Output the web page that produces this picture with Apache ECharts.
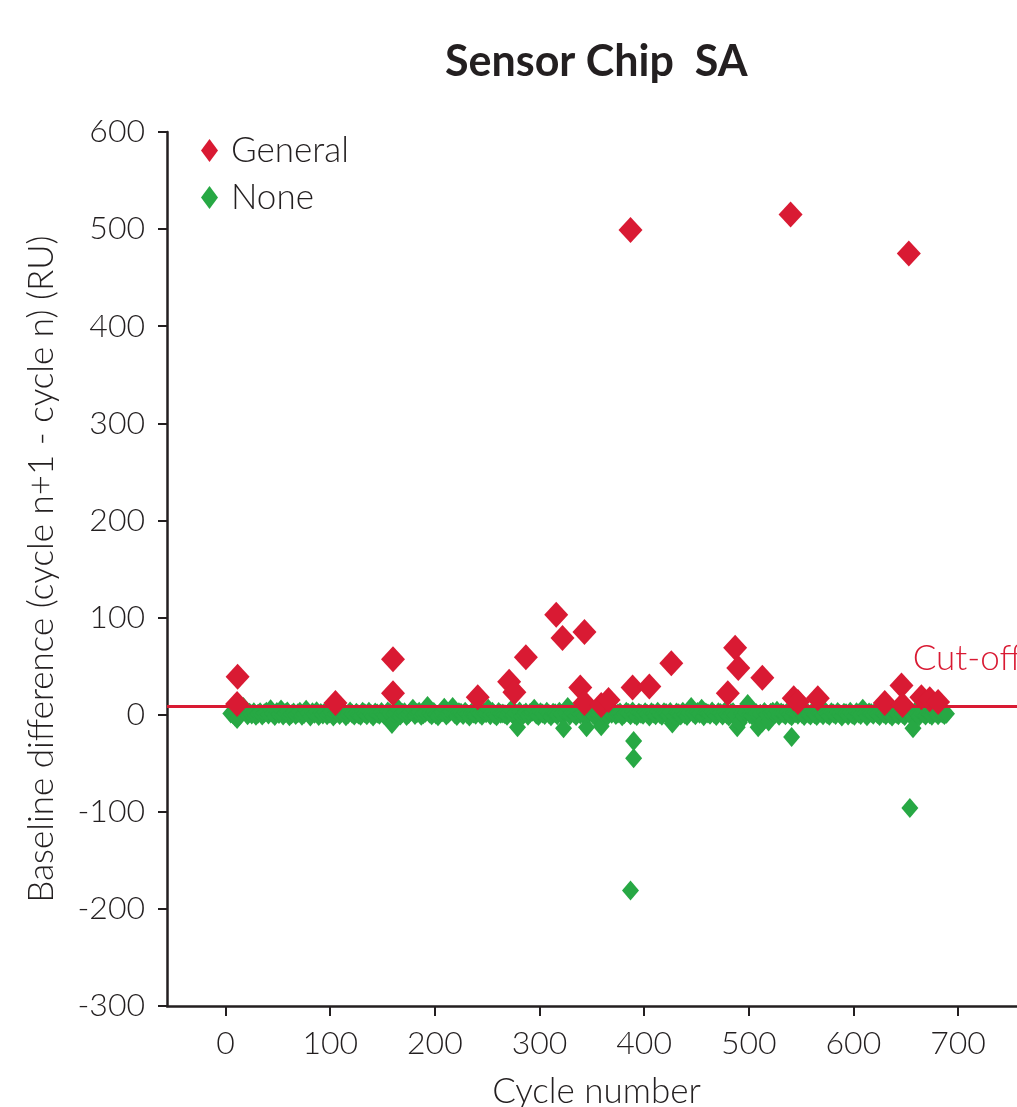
<!DOCTYPE html>
<html>
<head>
<meta charset="utf-8">
<title>Sensor Chip SA</title>
<script src="https://cdn.jsdelivr.net/npm/echarts@6/dist/echarts.min.js"></script>
<style>
  html, body { margin: 0; padding: 0; background: #fff; }
  #chart { width: 1017px; height: 1107px; }
</style>
</head>
<body>
<div id="chart"></div>
<script>
// "General" cycles (above the cut-off)
var generalPoints = [
  [11.5, 39], [11, 11], [105, 12], [160, 57], [160, 22], [241, 18],
  [271, 34], [276, 23], [287, 59], [316, 103], [322, 79], [343, 85],
  [339, 28], [343, 12], [359, 10], [366, 15], [387, 499], [389, 28],
  [405, 29], [426, 53], [480, 22], [487, 69], [490, 48], [513, 38],
  [540, 515], [543, 17], [547, 13], [566, 17], [630, 12], [646, 30],
  [647, 10], [653, 475], [665, 18], [673, 16], [681, 13]
]

// "None" cycles: the dense band, one value every 2 cycles from cycle 5
var noneStart = 5
var noneStep = 2
var noneValues = [
  1.2, 0.4, -1.8, -4.5, -1.5, 2.1, 8, 3.2, -0.6, 1.9, 0.3, 2.6, -1.2, 0.9, 2.4, -0.8, 1.5, 3.1, 0.2, 5.5,
  1.1, -1.4, 2.7, 0.6, 5.2, -0.9, 1.8, 3.3, -1.7, 0.5, 2.2, -0.3, 1.4, 2.9, -1.1, 0.7, 5, 1.6, -2, 2.5,
  0.9, 3.4, -1.3, 1.7, 0.1, 2.8, -0.7, 1.3, 3, -1.9, 0.6, 2.3, -0.4, 1.9, 2.6, -1.6, 0.4, 3.2, 1, -0.9,
  2.1, 0.3, -1.2, 2.9, 1.5, -0.5, 3.1, 0.8, -1.8, 2.2, 1.2, -0.2, 2.7, 0.1, -1.4, 3.3, 1.7, -9.5, 0.9, 2.4,
  6, -0.8, 1.6, 2.5, -1.5, 0.7, 3, 6, -0.3, 1.8, 2.9, -1.1, 0.4, 2.1, 9, 1.3, -0.6, 2.7, 0.2, -1.7,
  1.4, 2.6, 7, -0.9, 1.1, 3.2, 8, 0.6, -1.3, 2.4, 1.9, -0.4, 3, 0.5, -1.9, 2, 1.2, -0.2, 2.8, 0.9,
  -1.1, 2.3, 1.5, 6, -0.7, 3.1, 0.3, -1.6, 2.7, 1, 1.2, 0.4, -1.2, 2.5, 5, -0.5, 1.8, -13, 3.2, -1.8,
  0.7, 2.2, -1, 1.6, 3, 6, 0.2, -1.5, 2.6, 1.3, -0.3, 2.9, 0.8, -1.7, 2.1, 1.4, -0.6, 3.1, 0.5, -14,
  1.9, 8, -0.8, 2.4, 1.1, -1.3, 3.2, 0.4, 2, -1, -13, 1.7, 2.8, 0.6, -1.9, 1.5, 2.5, -12, 0.3, 1.8,
  -1.2, 2.7, 0.9, 3, -0.4, 1.3, 2.2, -1.6, 0.5, 2.9, 1.6, -0.7, 3.3, 0.2, -1.4, 2.1, 1, -0.2, 2.6, 0.8,
  -1.8, 2.4, 1.2, -0.5, 3.1, 0.6, -1.1, 2.5, 1.7, -0.3, 2.8, -9, -1.5, 2.3, 1.4, -0.9, 3, 0.1, -1.3, 2,
  8, 1.5, -0.6, 2.7, 0.9, 6, -1.7, 2.2, 1.1, -0.1, 3.2, 0.7, -1.4, 2.5, 1.8, -0.8, 2.9, 0.3, -1.9, 1.6,
  2.4, -0.4, -13, -8, 1.2, -1.2, 2.6, 11, 0.5, -0.7, 2.1, 1.6, -13, 0.9, -8, 2.8, 0.2, -7, 1.9, 3.1,
  0.6, 4, -1, 2.3, 1.3, -0.5, 2.7, 0.1, -1.6, 2, 1.5, -0.2, 3, 0.8, -1.3, 2.4, 1, -0.9, 2.9, 0.4,
  -1.5, 2.2, 1.7, -0.6, 3.2, 0.5, -1.1, 2.6, 1.2, -0.3, 2.8, 0.7, -1.8, 2.1, 1.4, -0.8, 3, 0.2, -1.2, 2.5,
  1.1, -0.4, 6, 0.9, -1.7, 2.3, 1.6, -0.1, 3.1, 0.6, -1.4, 2.7, 1.3, -0.7, 2.4, 0.3, -1.9, 2.9, 1, -0.5,
  2.2, 0.8, -1.3, 2.6, 1.5, -0.2, -14, 3, 0.4, -1.6, 2.1, 1.2, -0.9, 2.8, 0.5, -1.1, 2.4, 1.7, -0.6, 2,
  1.3, -0.3, 0.9
]
// "None" cycles well below the band
var noneOutliers = [[387, -181], [390, -45], [390, -27], [541, -23], [654, -96]]

var cutOff = 9
var xTicks = [0, 100, 200, 300, 400, 500, 600, 700]

var RED = '#d91a33'
var GREEN = '#27a844'
var INK = '#231f20'
var FONT = 'Lato'

var noneData = noneValues.map(function(v, i) {
  return [noneStart + i * noneStep, v]
}).concat(noneOutliers)

var chart = echarts.init(document.getElementById('chart'))

var option = {
  animation: false,
  backgroundColor: '#fff',
  title: {
    text: 'Sensor Chip  SA',
    left: 440,
    top: 36,
    textStyle: {
      fontFamily: FONT,
      fontWeight: 'bold',
      fontSize: 43,
      color: INK
    }
  },
  legend: {
    data: ['General', 'None'],
    orient: 'vertical',
    left: 196,
    top: 128,
    icon: 'diamond',
    itemWidth: 17,
    itemHeight: 23,
    itemGap: 12,
    textStyle: {
      fontFamily: FONT,
      fontWeight: 300,
      fontSize: 35,
      color: INK,
      padding: [0, 0, 0, 8]
    }
  },
  grid: {
    left: 167,
    top: 132,
    width: 859,
    height: 874,
    outerBoundsMode: 'none',
    containLabel: false
  },
  xAxis: {
    type: 'value',
    min: -56,
    max: 765,
    name: 'Cycle number',
    nameLocation: 'middle',
    nameGap: 68,
    nameTextStyle: {
      fontFamily: FONT,
      fontWeight: 300,
      fontSize: 35,
      color: INK
    },
    axisLine: {
      show: true,
      onZero: false,
      lineStyle: { color: INK, width: 2.5 }
    },
    axisTick: {
      show: true,
      length: 10,
      customValues: xTicks,
      lineStyle: { color: INK, width: 2 }
    },
    axisLabel: {
      customValues: xTicks,
      margin: 22,
      fontFamily: FONT,
      fontWeight: 300,
      fontSize: 32,
      color: INK
    },
    splitLine: { show: false }
  },
  yAxis: {
    type: 'value',
    min: -300,
    max: 600,
    interval: 100,
    name: 'Baseline difference (cycle n+1 - cycle n) (RU)',
    nameLocation: 'middle',
    nameGap: 108,
    nameTextStyle: {
      fontFamily: FONT,
      fontWeight: 300,
      fontSize: 35,
      color: INK
    },
    axisLine: {
      show: true,
      onZero: false,
      lineStyle: { color: INK, width: 2.5 }
    },
    axisTick: {
      show: true,
      length: 9,
      lineStyle: { color: INK, width: 2 }
    },
    axisLabel: {
      margin: 22,
      fontFamily: FONT,
      fontWeight: 300,
      fontSize: 32,
      color: INK
    },
    splitLine: { show: false }
  },
  series: [
    {
      name: 'None',
      type: 'scatter',
      symbol: 'diamond',
      symbolSize: [17, 20],
      itemStyle: { color: GREEN, opacity: 1 },
      data: noneData,
      z: 2
    },
    {
      name: 'General',
      type: 'scatter',
      symbol: 'diamond',
      symbolSize: [24, 26],
      itemStyle: { color: RED, opacity: 1 },
      data: generalPoints,
      z: 4,
      markLine: {
        silent: true,
        symbol: ['none', 'none'],
        lineStyle: { color: RED, width: 3, type: 'solid' },
        label: {
          show: true,
          position: 'insideEndTop',
          formatter: 'Cut-off',
          distance: [0, 30],
          padding: [0, 4, 0, 0],
          fontFamily: FONT,
          fontWeight: 300,
          fontSize: 35,
          color: RED
        },
        data: [{ yAxis: cutOff }],
        z: 3
      }
    }
  ]
}

chart.setOption(option)
</script>
</body>
</html>
